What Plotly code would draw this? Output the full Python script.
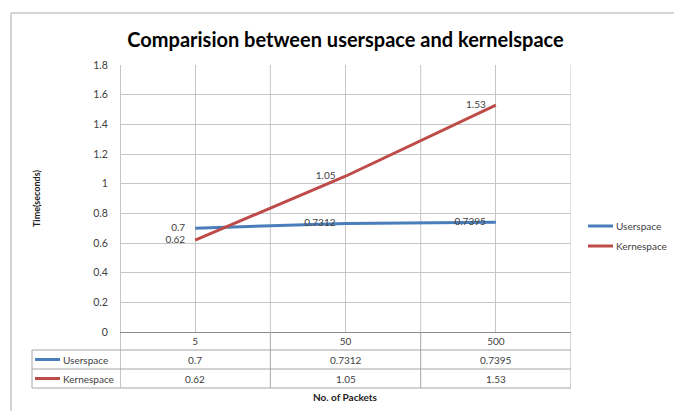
import plotly.graph_objects as go

categories = ["5", "50", "500"]
userspace = [0.7, 0.7312, 0.7395]
kernelspace = [0.62, 1.05, 1.53]
userspace_labels = ["0.7", "0.7312", "0.7395"]
kernelspace_labels = ["0.62", "1.05", "1.53"]
series_names = ["Userspace", "Kernespace"]
y_ticks = [0, 0.2, 0.4, 0.6, 0.8, 1, 1.2, 1.4, 1.6, 1.8]

W, H = 674, 416
L, R, T, B = 120, 571, 65, 332
FONT = "Lato, 'Open Sans', sans-serif"
BLUE = "#4A7EBB"
RED = "#BE4B48"
TXT = "#404040"
GRID = "#C6C6C6"
TLINE = "#A6A6A6"


def px(x):
    return (x - L) / (R - L)


def py(y):
    return (B - y) / (B - T)


fig = go.Figure()
for name, vals, labels, col in [(series_names[0], userspace, userspace_labels, BLUE),
                                (series_names[1], kernelspace, kernelspace_labels, RED)]:
    fig.add_trace(go.Scatter(
        x=categories, y=vals, name=name, mode="lines+text",
        text=labels, texttemplate="%{text}\u2002\u2002",
        textposition="middle left", showlegend=False,
        textfont=dict(size=10, color=TXT, family=FONT),
        line=dict(color=col, width=3)))

shapes = []
# outer chart frame (top and left edges visible)
shapes.append(dict(type="line", xref="paper", yref="paper",
                   x0=px(11), x1=px(680), y0=py(13), y1=py(13),
                   line=dict(color="#D4D4D4", width=2), layer="below"))
shapes.append(dict(type="line", xref="paper", yref="paper",
                   x0=px(11), x1=px(11), y0=py(411), y1=py(13),
                   line=dict(color="#D4D4D4", width=2), layer="below"))
# vertical lines at category boundaries through the table
for xb in [-0.5, 0.5, 1.5, 2.5]:
    shapes.append(dict(type="line", xref="x", yref="paper", x0=xb, x1=xb,
                       y0=0, y1=1,
                       line=dict(color="#8C8C8C" if xb == -0.5 else GRID, width=1),
                       layer="below"))
    shapes.append(dict(type="line", xref="x", yref="paper", x0=xb, x1=xb,
                       y0=py(388), y1=0,
                       line=dict(color="#8C8C8C" if xb == -0.5 else TLINE, width=1)))
shapes.append(dict(type="line", xref="paper", yref="paper", x0=px(32), x1=px(32),
                   y0=py(388), y1=py(350), line=dict(color=TLINE, width=1)))
# table horizontal lines
for yy in [350, 369, 388]:
    shapes.append(dict(type="line", xref="paper", yref="paper", x0=px(32), x1=1,
                       y0=py(yy), y1=py(yy), line=dict(color=TLINE, width=1)))

annotations = []
# table rows
for yy, name, vals, col in [(359.5, series_names[0], userspace_labels, BLUE),
                            (378.5, series_names[1], kernelspace_labels, RED)]:
    shapes.append(dict(type="line", xref="paper", yref="paper", x0=px(35), x1=px(60),
                       y0=py(yy), y1=py(yy), line=dict(color=col, width=3)))
    annotations.append(dict(xref="paper", yref="paper", x=px(61), y=py(yy),
                            xanchor="left", yanchor="middle", showarrow=False,
                            text=name, font=dict(size=10, color=TXT, family=FONT)))
    for i, v in enumerate(vals):
        annotations.append(dict(xref="x", yref="paper", x=i, y=py(yy),
                                xanchor="center", yanchor="middle", showarrow=False,
                                text=v, font=dict(size=10, color=TXT, family=FONT)))
# legend (right side)
for yy, name, col in [(226, series_names[0], BLUE), (246, series_names[1], RED)]:
    shapes.append(dict(type="line", xref="paper", yref="paper", x0=px(588), x1=px(613),
                       y0=py(yy), y1=py(yy), line=dict(color=col, width=3)))
    annotations.append(dict(xref="paper", yref="paper", x=px(614), y=py(yy),
                            xanchor="left", yanchor="middle", showarrow=False,
                            text=name, font=dict(size=10, color=TXT, family=FONT)))

annotations.append(dict(xref="paper", yref="paper", x=0.5, y=py(397),
                        xanchor="center", yanchor="middle", showarrow=False,
                        text="<b>No. of Packets</b>",
                        font=dict(size=10, color="#202020", family=FONT)))
annotations.append(dict(xref="paper", yref="paper", x=px(36), y=py(199),
                        xanchor="center", yanchor="middle", showarrow=False,
                        textangle=-90, text="<b>Time(seconds)</b>",
                        font=dict(size=9, color="#202020", family=FONT)))

fig.update_layout(
    width=W, height=H,
    margin=dict(l=L, r=W - R, t=T, b=H - B, pad=0),
    paper_bgcolor="white", plot_bgcolor="white",
    font=dict(family=FONT, color=TXT),
    showlegend=False,
    title=dict(text="<b>Comparision between userspace and kernelspace</b>",
               x=0.5, xref="paper", xanchor="center",
               y=1 - 40 / H, yref="container", yanchor="middle",
               font=dict(size=20, color="#000000", family=FONT)),
    xaxis=dict(type="category", categoryorder="array", categoryarray=categories,
               range=[-0.5, 2.5], showgrid=True, gridcolor=GRID, gridwidth=1,
               showline=True, linecolor="#8C8C8C", linewidth=1,
               ticks="", tickfont=dict(size=10, color=TXT, family=FONT),
               zeroline=False, fixedrange=True),
    yaxis=dict(range=[0, 1.8], tickvals=y_ticks, showgrid=True, gridcolor=GRID,
               gridwidth=1, zeroline=False, showline=False,
               ticks="outside", ticklen=9, tickcolor="rgba(0,0,0,0)",
               tickfont=dict(size=10.5, color=TXT, family=FONT)),
    shapes=shapes, annotations=annotations,
)

fig.write_html("out.html", config={"displayModeBar": False},
               post_script="document.body.style.margin='0';document.body.style.overflow='hidden';")
